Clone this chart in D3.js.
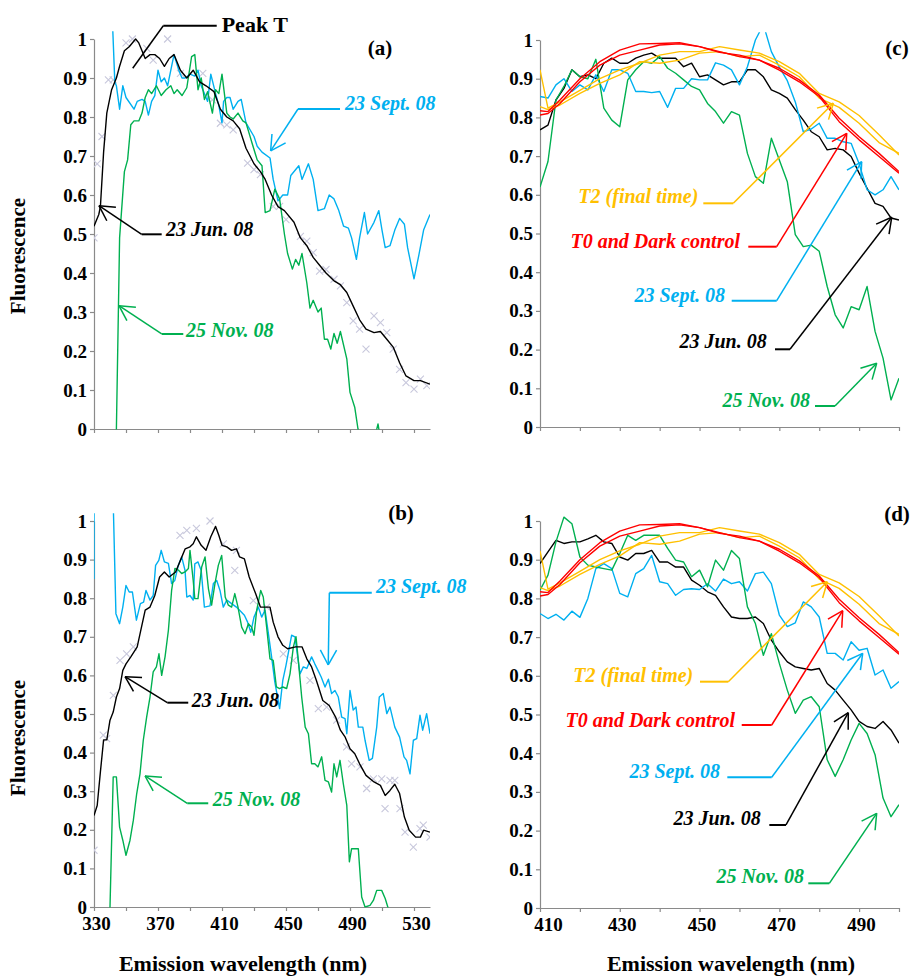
<!DOCTYPE html>
<html>
<head>
<meta charset="utf-8">
<script src="https://cdn.jsdelivr.net/npm/d3@7"></script>
<style>
  body { margin: 0; background: #fff; }
  svg { display: block; font-family: "Liberation Serif", "Times New Roman", serif; }
</style>
</head>
<body>
<div id="chart"></div>
<script>
// ---- axis categories ----
var yTicks = [0, 0.1, 0.2, 0.3, 0.4, 0.5, 0.6, 0.7, 0.8, 0.9, 1];
var abTicks = [330, 350, 370, 390, 410, 430, 450, 470, 490, 510, 530];
var abLabels = [330, 370, 410, 450, 490, 530];
var cdTicks = [410, 420, 430, 440, 450, 460, 470, 480, 490, 500];
var cdLabels = [410, 430, 450, 470, 490];

// ---- panel (a): [wavelength, fluorescence] ----
var aJun = [[330,0.52],[333,0.55],[334,0.57],[336,0.71],[338,0.81],[341,0.87],[344,0.9],[346,0.93],[349,0.97],[352,0.98],[356,1.0],[358,0.99],[362,0.95],[365,0.96],[368,0.96],[371,0.95],[374,0.93],[377,0.95],[380,0.96],[384,0.92],[388,0.9],[392,0.92],[396,0.89],[400,0.88],[405,0.865],[409,0.82],[413,0.8],[417,0.79],[421,0.77],[425,0.72],[430,0.68],[434,0.66],[437,0.64],[441,0.6],[445,0.57],[449,0.56],[455,0.53],[459,0.49],[463,0.47],[467,0.44],[471,0.42],[475,0.4],[480,0.38],[484,0.37],[488,0.35],[492,0.315],[496,0.28],[500,0.256],[505,0.247],[509,0.25],[513,0.23],[517,0.21],[521,0.17],[525,0.136],[530,0.124],[534,0.124],[540,0.115]];
var aSep = [[341,1.1],[343,0.89],[344,0.88],[346,0.82],[348,0.88],[350,0.85],[355,0.82],[357,0.84],[360,0.845],[362,0.84],[364,0.805],[366,0.84],[368,0.855],[370,0.92],[372,0.89],[374,0.9],[376,0.88],[380,0.96],[383,0.92],[385,0.9],[387,0.9],[390,0.91],[393,0.905],[395,0.92],[397,0.88],[399,0.86],[401,0.84],[403,0.91],[406,0.86],[408,0.83],[410,0.785],[411,0.84],[413,0.85],[415,0.85],[417,0.82],[420,0.84],[422,0.845],[425,0.785],[430,0.75],[432,0.725],[435,0.71],[440,0.695],[442,0.64],[445,0.585],[448,0.6],[451,0.6],[453,0.65],[458,0.675],[460,0.64],[464,0.68],[467,0.64],[470,0.56],[474,0.565],[477,0.6],[480,0.59],[483,0.56],[486,0.52],[489,0.515],[491,0.49],[494,0.435],[496,0.49],[499,0.555],[501,0.5],[505,0.53],[508,0.56],[510,0.51],[512,0.465],[515,0.47],[518,0.51],[521,0.54],[524,0.525],[526,0.465],[530,0.385],[533,0.445],[536,0.51],[540,0.55]];
var aNov = [[343,-0.2],[344,0],[346,0.49],[349,0.66],[351,0.69],[353,0.78],[355,0.79],[358,0.79],[360,0.81],[362,0.85],[364,0.87],[366,0.86],[369,0.88],[372,0.855],[375,0.87],[378,0.88],[380,0.86],[382,0.87],[385,0.855],[388,0.875],[391,0.955],[393,0.96],[395,0.87],[397,0.9],[399,0.845],[401,0.865],[404,0.81],[406,0.87],[408,0.86],[410,0.91],[413,0.81],[415,0.8],[417,0.795],[420,0.81],[423,0.79],[425,0.785],[429,0.73],[432,0.69],[435,0.675],[437,0.555],[440,0.56],[443,0.615],[446,0.59],[449,0.5],[451,0.45],[454,0.41],[456,0.435],[458,0.42],[460,0.45],[463,0.375],[465,0.31],[467,0.33],[470,0.3],[472,0.31],[474,0.23],[476,0.23],[478,0.205],[480,0.245],[482,0.22],[484,0.25],[488,0.18],[490,0.094],[493,0.055],[495,0],[500,-0.1],[505,-0.03],[507.5,0.013],[510,-0.05],[540,-0.1]];
var aPeak = [[330,0.49],[332,0.68],[335,0.75],[339,0.895],[342,0.895],[350,0.99],[354,1.0],[363,0.976],[367,0.946],[376,1.0],[384,0.912],[398,0.912],[404,0.844],[409,0.784],[413,0.78],[417,0.767],[426,0.682],[430,0.665],[434,0.652],[442,0.571],[446,0.571],[450,0.537],[459,0.494],[463,0.482],[467,0.452],[471,0.405],[475,0.409],[480,0.384],[484,0.367],[488,0.324],[492,0.277],[496,0.256],[500,0.205],[505,0.29],[509,0.273],[513,0.247],[517,0.205],[521,0.153],[525,0.119],[530,0.102],[534,0.128],[538,0.111]];

// ---- panel (b) ----
var bJun = [[330,0.237],[332,0.263],[334,0.35],[336,0.433],[338,0.433],[340,0.484],[342,0.505],[344,0.544],[346,0.566],[348,0.613],[350,0.63],[353,0.648],[357,0.674],[359,0.712],[362,0.769],[365,0.777],[368,0.807],[371,0.855],[374,0.868],[377,0.855],[381,0.868],[384,0.898],[387,0.928],[390,0.933],[392,0.941],[394,0.959],[397,0.937],[400,0.924],[403,0.959],[406,0.986],[408,0.963],[410,0.937],[413,0.933],[416,0.924],[419,0.928],[421,0.907],[424,0.902],[427,0.855],[431,0.812],[434,0.777],[437,0.777],[440,0.777],[442,0.738],[445,0.7],[448,0.678],[451,0.669],[456,0.674],[460,0.674],[463,0.643],[466,0.622],[469,0.587],[473,0.535],[477,0.522],[481,0.492],[484,0.458],[487,0.44],[490,0.41],[493,0.397],[496,0.371],[500,0.341],[505,0.324],[509,0.315],[512,0.289],[515,0.302],[518,0.318],[521,0.294],[524,0.233],[527,0.199],[531,0.181],[534,0.181],[536,0.199],[540,0.194]];
var bSep = [[330,0.85],[330.5,3],[341.5,3],[342,1.05],[343.7,0.76],[346,0.734],[348,0.777],[350,0.833],[352,0.816],[354,0.816],[356.5,0.743],[359,0.786],[361,0.79],[362.5,0.82],[365,0.795],[367,0.807],[368.5,0.885],[370.5,0.898],[372,0.924],[374,0.894],[376.5,0.89],[378.5,0.838],[380.5,0.846],[382.7,0.885],[384.8,0.907],[386.9,0.872],[388,0.803],[390,0.807],[392,0.795],[393,0.889],[395,0.894],[397,0.872],[399,0.777],[402.5,0.78],[404.6,0.838],[406.7,0.846],[408.75,0.82],[410.8,0.777],[413,0.795],[416,0.786],[419,0.777],[421,0.769],[424,0.756],[426,0.738],[428,0.712],[430,0.751],[432.7,0.777],[434.8,0.751],[436.9,0.769],[439,0.708],[441,0.648],[443,0.583],[446,0.514],[448,0.587],[450,0.626],[453.5,0.704],[455.6,0.7],[458.75,0.604],[460.8,0.622],[463,0.618],[466,0.648],[468,0.63],[470,0.613],[472,0.596],[474.4,0.57],[476.5,0.59],[478.5,0.553],[480.6,0.561],[482.7,0.544],[484.8,0.492],[486.9,0.488],[488,0.449],[490,0.561],[492,0.51],[493.75,0.518],[495.2,0.466],[498,0.466],[499.4,0.432],[502,0.38],[504,0.385],[506.7,0.466],[508.3,0.544],[510.8,0.553],[513,0.501],[515,0.518],[518,0.466],[521,0.44],[523.75,0.389],[525.4,0.38],[527.5,0.345],[529.6,0.432],[531.7,0.436],[533.75,0.497],[535.4,0.458],[537.9,0.501],[540,0.449]];
var bNov = [[339,-0.3],[340,0],[342,0.337],[344,0.337],[346,0.207],[348,0.173],[350,0.134],[352.5,0.173],[354.6,0.225],[356.7,0.294],[358.75,0.345],[360.8,0.432],[362.9,0.492],[365,0.544],[367,0.609],[369,0.622],[370.6,0.656],[372.3,0.6],[374.4,0.648],[376.5,0.717],[378.5,0.82],[380.6,0.877],[382.7,0.873],[384.8,0.864],[386.9,0.868],[389,0.877],[390,0.924],[392,0.846],[393,0.799],[395,0.799],[397.3,0.881],[399.4,0.907],[401.5,0.825],[403.5,0.782],[405.6,0.838],[407.7,0.885],[409.8,0.911],[412,0.803],[414,0.782],[416,0.777],[418,0.812],[420,0.777],[422.3,0.725],[424.4,0.708],[426.5,0.734],[428.5,0.725],[430,0.704],[431.7,0.769],[434.2,0.82],[435.8,0.803],[437.9,0.725],[440,0.643],[442,0.639],[444,0.57],[446,0.566],[448,0.57],[450.4,0.566],[452.5,0.604],[454.6,0.674],[456.25,0.7],[457.7,0.639],[459.8,0.544],[462,0.466],[464,0.449],[466,0.371],[468,0.371],[470,0.363],[472.3,0.389],[474.4,0.328],[476.5,0.324],[478.5,0.298],[480,0.371],[481.7,0.337],[483.75,0.38],[485.8,0.32],[488,0.263],[489.6,0.117],[491,0.151],[493,0.151],[495.2,0.151],[497.3,0.026],[499.4,0],[502.5,0.004],[504.6,0.017],[506.7,0.043],[509.8,0.043],[512,0.022],[514,-0.005],[516,-0.1],[540,-0.1]];
var bPeak = [[330,0.147],[335.8,0.445],[337.9,0.436],[342.1,0.548],[346.25,0.639],[350.4,0.656],[354.6,0.674],[383.75,0.963],[388,0.976],[394,0.981],[402.5,1.0],[410.8,0.941],[418,0.872],[419,0.924],[429.6,0.794],[437.9,0.777],[448.3,0.656],[454.6,0.639],[465,0.587],[470.2,0.514],[475.4,0.518],[481.7,0.484],[487.9,0.415],[491,0.371],[496.25,0.363],[500.4,0.307],[504.6,0.332],[509.8,0.332],[511.9,0.255],[515,0.328],[518,0.328],[521.25,0.255],[524.4,0.194],[529.6,0.155],[533.75,0.203],[535.8,0.212],[540,0.181]];

// ---- panels (c) and (d): controls, same in both ----
var ctrlNm = [410, 412, 415, 420, 425, 430, 435, 440, 445, 450, 455, 460, 465, 470, 475, 480, 485, 490, 495, 500];
var t0A = [0.817,0.815,0.845,0.9,0.944,0.974,0.99,0.991,0.993,0.983,0.968,0.961,0.948,0.927,0.897,0.858,0.798,0.75,0.707,0.66];
var t0B = [0.806,0.81,0.836,0.892,0.935,0.961,0.974,0.987,0.99,0.983,0.97,0.957,0.948,0.922,0.892,0.854,0.789,0.742,0.699,0.656];
var t2A = [0.923,0.824,0.84,0.87,0.9,0.923,0.94,0.961,0.97,0.97,0.983,0.974,0.966,0.944,0.914,0.862,0.84,0.805,0.755,0.703];
var t2B = [0.828,0.82,0.832,0.862,0.888,0.91,0.944,0.94,0.948,0.966,0.97,0.957,0.961,0.935,0.905,0.85,0.826,0.785,0.735,0.707];

var nm2 = [410,412,414,416,418,420,422,424,426,428,430,432,434,436,438,440,442,444,446,448,450,452,454,456,458,460,462,464,466,468,470,472,474,476,478,480,482,484,486,488,490,492,494,496,498,500];
var cJun = [0.768,0.78,0.845,0.875,0.923,0.905,0.91,0.9,0.94,0.953,0.94,0.94,0.953,0.961,0.966,0.953,0.953,0.953,0.931,0.94,0.905,0.91,0.897,0.884,0.892,0.892,0.923,0.923,0.905,0.871,0.862,0.85,0.82,0.793,0.763,0.75,0.716,0.72,0.716,0.699,0.656,0.617,0.578,0.57,0.54,0.535];
var cSep = [0.854,0.85,0.884,0.9,0.867,0.884,0.871,0.91,0.867,0.923,0.923,0.914,0.867,0.867,0.864,0.867,0.826,0.875,0.875,0.9,0.897,0.897,0.941,0.935,0.923,0.884,0.931,1.0,1.04,0.97,0.93,0.895,0.84,0.763,0.77,0.785,0.746,0.746,0.737,0.733,0.68,0.613,0.6,0.613,0.647,0.613];
var cNov = [0.62,0.686,0.845,0.88,0.923,0.905,0.9,0.95,0.824,0.793,0.776,0.897,0.923,0.944,0.94,0.957,0.927,0.914,0.897,0.88,0.871,0.836,0.815,0.785,0.815,0.806,0.707,0.647,0.63,0.746,0.69,0.634,0.497,0.466,0.47,0.454,0.363,0.29,0.256,0.311,0.303,0.363,0.247,0.178,0.07,0.126];
var dJun = [0.89,0.92,0.95,0.942,0.946,0.946,0.954,0.963,0.946,0.942,0.907,0.899,0.916,0.916,0.924,0.894,0.894,0.881,0.881,0.847,0.834,0.817,0.808,0.778,0.752,0.748,0.748,0.752,0.735,0.692,0.662,0.636,0.623,0.619,0.615,0.619,0.58,0.563,0.537,0.512,0.482,0.469,0.464,0.482,0.46,0.426];
var dSep = [0.761,0.748,0.759,0.744,0.767,0.751,0.8,0.877,0.89,0.877,0.813,0.804,0.864,0.877,0.911,0.843,0.838,0.808,0.823,0.825,0.823,0.838,0.819,0.85,0.838,0.843,0.819,0.864,0.868,0.838,0.757,0.727,0.737,0.791,0.778,0.752,0.658,0.658,0.641,0.688,0.666,0.671,0.602,0.615,0.568,0.585];
var dNov = [0.821,0.86,0.946,1.01,0.993,0.907,0.886,0.881,0.877,0.873,0.916,0.963,0.95,0.963,0.963,0.963,0.929,0.899,0.894,0.856,0.873,0.83,0.899,0.873,0.924,0.903,0.778,0.735,0.653,0.709,0.632,0.563,0.503,0.537,0.546,0.52,0.383,0.34,0.383,0.434,0.477,0.451,0.396,0.284,0.236,0.267];

var BLACK = "#000000", BLUE = "#00b0f0", GREEN = "#00b050", RED = "#ff0000", ORANGE = "#ffc000";

// ---- call-out labels, anchored in each panel's data units ----
var aNotes = [
  { label: "Peak T", color: BLACK, tip: [354.2, 0.925], elbow: [373.3, 1.034], endX: 406.7, textX: 409.8, textY: 1.019, arrow: false, upright: true },
  { label: "23 Sept. 08", color: BLUE, tip: [440.4, 0.713], elbow: [457.5, 0.8205], endX: 483.75, textX: 486.9, textY: 0.817 },
  { label: "23 Jun. 08", color: BLACK, tip: [333.1, 0.5726], elbow: [359.8, 0.4992], endX: 372.3, textX: 375, textY: 0.4949 },
  { label: "25 Nov. 08", color: GREEN, tip: [345.6, 0.3162], elbow: [372.3, 0.2436], endX: 385.8, textX: 387.5, textY: 0.2367 }
];
var bNotes = [
  { label: "23 Sept. 08", color: BLUE, tip: [476.4, 0.627], elbow: [477.1, 0.8143], endX: 503.6, textX: 506.25, textY: 0.8127 },
  { label: "23 Jun. 08", color: BLACK, tip: [349.4, 0.5966], elbow: [375.8, 0.5293], endX: 388.9, textX: 391.1, textY: 0.5189 },
  { label: "25 Nov. 08", color: GREEN, tip: [361.9, 0.3394], elbow: [388.3, 0.2687], endX: 401.4, textX: 404.2, textY: 0.2617 }
];
var cNotes = [
  { label: "T2 (final time)", color: ORANGE, tip: [483.53, 0.8364], elbow: [458.46, 0.578], endX: 450.94, textX: 449.7, textY: 0.578 },
  { label: "T0 and Dark control", color: RED, tip: [486.89, 0.7589], elbow: [469.34, 0.4659], endX: 462.22, textX: 460.14, textY: 0.4618 },
  { label: "23 Sept. 08", color: BLUE, tip: [490.65, 0.6855], elbow: [469.34, 0.3264], endX: 458.06, textX: 456.38, textY: 0.3238 },
  { label: "23 Jun. 08", color: BLACK, tip: [498.17, 0.5419], elbow: [472.67, 0.2008], endX: 468.91, textX: 466.83, textY: 0.2034 },
  { label: "25 Nov. 08", color: GREEN, tip: [494.41, 0.1646], elbow: [483.95, 0.0543], endX: 478.94, textX: 477.69, textY: 0.0525 }
];
var dNotes = [
  { label: "T2 (final time)", color: ORANGE, tip: [482.03, 0.8432], elbow: [457.21, 0.5848], endX: 450.11, textX: 448.43, textY: 0.5848 },
  { label: "T0 and Dark control", color: RED, tip: [485.89, 0.7682], elbow: [468.09, 0.4729], endX: 460.57, textX: 458.89, textY: 0.4685 },
  { label: "23 Sept. 08", color: BLUE, tip: [490.9, 0.6581], elbow: [468.09, 0.3377], endX: 456.96, textX: 455.13, textY: 0.3351 },
  { label: "23 Jun. 08", color: BLACK, tip: [487.29, 0.5047], elbow: [471.67, 0.2145], endX: 467.49, textX: 465.33, textY: 0.2145 },
  { label: "25 Nov. 08", color: GREEN, tip: [494.41, 0.2447], elbow: [482.53, 0.0638], endX: 477.26, textX: 476.18, textY: 0.0654 }
];

var svgWidth = 912;
var svgHeight = 977;
var FONT = "'Liberation Serif', 'Times New Roman', serif";

var svg = d3.select("#chart")
  .append("svg")
  .attr("width", svgWidth)
  .attr("height", svgHeight);

function ctrlSeries() {
  return [
    { data: d3.zip(ctrlNm, t2A), color: ORANGE },
    { data: d3.zip(ctrlNm, t2B), color: ORANGE },
    { data: d3.zip(ctrlNm, t0A), color: RED },
    { data: d3.zip(ctrlNm, t0B), color: RED }
  ];
}

var panels = [
  { key: "a", left: 94, right: 430, top: 39, bottom: 429, domain: [330, 540], ticks: abTicks, labels: [],
    tag: [380, 55], markers: aPeak, notes: aNotes, textAnchor: "start",
    series: [{ data: aSep, color: BLUE }, { data: aNov, color: GREEN }, { data: aJun, color: BLACK }] },
  { key: "b", left: 94, right: 430, top: 521, bottom: 907, domain: [330, 540], ticks: abTicks, labels: abLabels,
    tag: [401, 520], markers: bPeak, notes: bNotes, textAnchor: "start",
    series: [{ data: bSep, color: BLUE }, { data: bNov, color: GREEN }, { data: bJun, color: BLACK }] },
  { key: "c", left: 540, right: 899, top: 40, bottom: 427, domain: [410, 500], ticks: cdTicks, labels: [],
    tag: [897, 55], markers: [], notes: cNotes, textAnchor: "end",
    series: [{ data: d3.zip(nm2, cJun), color: BLACK }, { data: d3.zip(nm2, cSep), color: BLUE },
             { data: d3.zip(nm2, cNov), color: GREEN }].concat(ctrlSeries()) },
  { key: "d", left: 540, right: 899, top: 521, bottom: 908, domain: [410, 500], ticks: cdTicks, labels: cdLabels,
    tag: [897, 521], markers: [], notes: dNotes, textAnchor: "end",
    series: [{ data: d3.zip(nm2, dJun), color: BLACK }, { data: d3.zip(nm2, dSep), color: BLUE },
             { data: d3.zip(nm2, dNov), color: GREEN }].concat(ctrlSeries()) }
];

function fmtY(v) {
  return (v === 0 || v === 1) ? String(v) : v.toFixed(1);
}

function drawPanel(p) {
  var x = d3.scaleLinear().domain(p.domain).range([p.left, p.right]);
  var y = d3.scaleLinear().domain([0, 1]).range([p.bottom, p.top]);

  // clip slightly above 1 like the spreadsheet plot area
  var clipId = "clip-" + p.key;
  svg.append("clipPath").attr("id", clipId)
    .append("rect")
    .attr("x", p.left)
    .attr("y", y(1.02))
    .attr("width", p.right - p.left)
    .attr("height", p.bottom - y(1.02) + 0.5);

  // axes
  var yAxis = d3.axisLeft(y).tickValues(yTicks).tickSizeInner(4).tickSizeOuter(0).tickPadding(3).tickFormat(fmtY);
  var xAxis = d3.axisBottom(x).tickValues(p.ticks).tickSizeInner(4).tickSizeOuter(0).tickPadding(6)
    .tickFormat(d => p.labels.indexOf(d) >= 0 ? d : "");

  var yG = svg.append("g").attr("transform", `translate(${p.left},0)`).call(yAxis);
  var xG = svg.append("g").attr("transform", `translate(0,${p.bottom})`).call(xAxis);

  [yG, xG].forEach(function(g) {
    g.attr("font-family", FONT).attr("font-size", 19).attr("font-weight", "bold");
    g.selectAll("path, line").attr("stroke", "#8a8a8a").attr("stroke-width", 1.2);
    g.selectAll("text").attr("fill", "#000");
  });
  xG.selectAll(".tick text").attr("dx", (d, i) => (p.key === "d" && i === 0) ? 8 : 2);

  var plot = svg.append("g").attr("clip-path", `url(#${clipId})`);

  // reference spectrum crosses
  plot.selectAll(".mark")
    .data(p.markers)
    .enter()
    .append("path")
    .attr("d", "M-3.5,-3.5L3.5,3.5M-3.5,3.5L3.5,-3.5")
    .attr("transform", d => `translate(${x(d[0])},${y(d[1])})`)
    .attr("stroke", "#c8c8dc")
    .attr("stroke-width", 1.1)
    .attr("fill", "none");

  var line = d3.line().x(d => x(d[0])).y(d => y(d[1]));

  p.series.forEach(function(s) {
    plot.append("path")
      .datum(s.data)
      .attr("d", line)
      .attr("fill", "none")
      .attr("stroke", s.color)
      .attr("stroke-width", 1.4)
      .attr("stroke-linejoin", "round");
  });

  // call-outs with arrows
  var notes = svg.append("g");
  p.notes.forEach(function(n) {
    var tx = x(n.tip[0]), ty = y(n.tip[1]);
    var ex = x(n.elbow[0]), ey = y(n.elbow[1]);
    var hx = x(n.endX);

    notes.append("line")
      .attr("x1", ex).attr("y1", ey).attr("x2", hx).attr("y2", ey)
      .attr("stroke", n.color).attr("stroke-width", 2);

    notes.append("line")
      .attr("x1", ex).attr("y1", ey).attr("x2", tx).attr("y2", ty)
      .attr("stroke", n.color).attr("stroke-width", 1.5);

    if (n.arrow !== false) {
      var ang = Math.atan2(ey - ty, ex - tx);
      var len = 17;
      [ang - 0.5, ang + 0.5].forEach(function(a) {
        notes.append("line")
          .attr("x1", tx).attr("y1", ty)
          .attr("x2", tx + len * Math.cos(a)).attr("y2", ty + len * Math.sin(a))
          .attr("stroke", n.color).attr("stroke-width", 1.5);
      });
    }

    notes.append("text")
      .attr("x", x(n.textX))
      .attr("y", y(n.textY))
      .attr("text-anchor", n.upright ? "start" : p.textAnchor)
      .attr("font-family", FONT)
      .attr("font-size", n.upright ? 22 : 20)
      .attr("font-weight", "bold")
      .attr("font-style", n.upright ? "normal" : "italic")
      .attr("fill", n.color)
      .text(n.label);
  });

  // panel tag
  svg.append("text")
    .attr("x", p.tag[0])
    .attr("y", p.tag[1])
    .attr("text-anchor", "middle")
    .attr("font-family", FONT)
    .attr("font-size", 21)
    .attr("font-weight", "bold")
    .text("(" + p.key + ")");
}

panels.forEach(drawPanel);

// axis titles
[256, 738].forEach(function(cy) {
  svg.append("text")
    .attr("transform", `translate(25,${cy}) rotate(-90)`)
    .attr("text-anchor", "middle")
    .attr("font-family", FONT)
    .attr("font-size", 21)
    .attr("font-weight", "bold")
    .text("Fluorescence");
});

[243, 731].forEach(function(cx) {
  svg.append("text")
    .attr("x", cx)
    .attr("y", 971)
    .attr("text-anchor", "middle")
    .attr("font-family", FONT)
    .attr("font-size", 22)
    .attr("font-weight", "bold")
    .text("Emission wavelength (nm)");
});
</script>
</body>
</html>
